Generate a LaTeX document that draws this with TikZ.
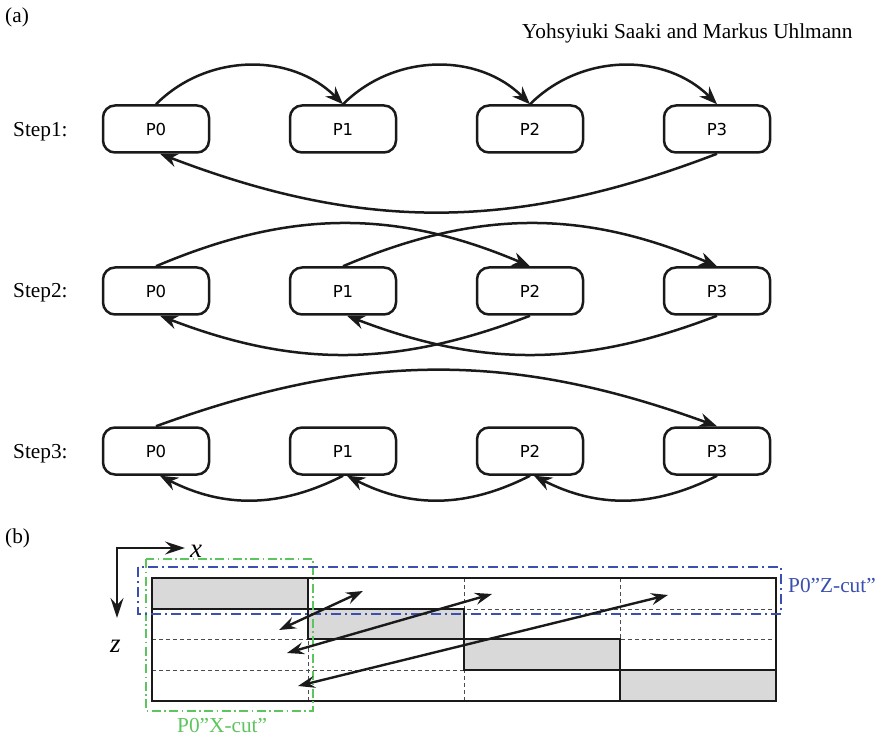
\documentclass[tikz,border=0pt]{standalone}
\usepackage{fontspec}
\setmainfont{Liberation Serif}
\newfontfamily\boxfont{DejaVu Sans}
\usetikzlibrary{arrows.meta}
\definecolor{zblue}{HTML}{3B4FB0}
\definecolor{xgreen}{HTML}{5DC55D}
\definecolor{cellgray}{HTML}{D9D9D9}
\definecolor{ink}{HTML}{1A1A1A}
\begin{document}
\begin{tikzpicture}[x=1pt,y=1pt,
  proc/.style={draw=ink, line width=2.5pt, rounded corners=12pt, minimum width=106pt, minimum height=47pt, inner sep=0pt, font=\boxfont\fontsize{16.5}{19}\selectfont},
  comm/.style={draw=ink, line width=2.5pt, -{Stealth[length=18pt,width=14pt,inset=6pt]}},
  xchg/.style={draw=ink, line width=2.4pt, {Stealth[length=17pt,width=12pt,inset=6pt]}-{Stealth[length=17pt,width=12pt,inset=6pt]}},
  axis/.style={draw=ink, line width=2.4pt, {Stealth[length=20pt,width=13pt,inset=7pt]}-{Stealth[length=20pt,width=13pt,inset=7pt]}},
  lbl/.style={font=\fontsize{21.3}{25}\selectfont, inner sep=0pt, anchor=base west},
  gridline/.style={draw=black!70, line width=1pt, dash pattern=on 4pt off 3pt},
  block/.style={fill=cellgray, draw=ink, line width=2.4pt},
  zcut/.style={draw=zblue, line width=1.7pt, dash pattern=on 10pt off 4pt on 2pt off 4pt},
  xcut/.style={draw=xgreen, line width=1.3pt, dash pattern=on 9pt off 3.5pt on 1.5pt off 3.5pt}
]
\useasboundingbox (0,0) rectangle (879,-738);

% ---------- part (a) ----------
\node[lbl] (la) at (5,-23) {(a)};
\node[lbl] (auth) at (522,-39) {Yohsyiuki Saaki and Markus Uhlmann};

\node[lbl] (st1) at (13,-137) {Step1:};
\node[lbl] (st2) at (13,-298) {Step2:};
\node[lbl] (st3) at (13,-458) {Step3:};

\foreach \r/\y in {1/129,2/291,3/451}{
  \node[proc] (r\r p0) at (156,-\y) {P0};
  \node[proc] (r\r p1) at (343,-\y) {P1};
  \node[proc] (r\r p2) at (530,-\y) {P2};
  \node[proc] (r\r p3) at (717,-\y) {P3};
}

% Step 1
\draw[comm] (r1p0.north) to[bend left=45] (r1p1.north);
\draw[comm] (r1p1.north) to[bend left=45] (r1p2.north);
\draw[comm] (r1p2.north) to[bend left=45] (r1p3.north);
\draw[comm] (r1p3.south) to[bend left=21] ([xshift=4pt]r1p0.south);

% Step 2
\draw[comm] (r2p0.north) to[bend left=23] (r2p2.north);
\draw[comm] (r2p1.north) to[bend left=23] (r2p3.north);
\draw[comm] (r2p2.south) to[bend left=21] ([xshift=4pt]r2p0.south);
\draw[comm] (r2p3.south) to[bend left=21] ([xshift=4pt]r2p1.south);

% Step 3
\draw[comm] (r3p0.north) to[bend left=20] (r3p3.north);
\draw[comm] (r3p1.south) to[bend left=27] ([xshift=4pt]r3p0.south);
\draw[comm] (r3p2.south) to[bend left=27] ([xshift=4pt]r3p1.south);
\draw[comm] (r3p3.south) to[bend left=27] ([xshift=4pt]r3p2.south);

% ---------- part (b) ----------
\node[lbl] (lb) at (5,-543) {(b)};

\coordinate (org) at (117,-548);
\coordinate (xax) at (185,-548);
\coordinate (zax) at (117,-618);
\draw[axis] (xax) -- (org) -- (zax);
\node[lbl, font=\fontsize{27}{30}\selectfont\itshape] (xl) at (190,-557) {x};
\node[lbl, font=\fontsize{27}{30}\selectfont\itshape] (zl) at (110,-652) {z};

% dashed grid
\foreach \yy in {609,639,670}{
  \draw[gridline] (152,-\yy) -- (776,-\yy);
}
\foreach \xx in {308,464,620}{
  \draw[gridline] (\xx,-578) -- (\xx,-701);
}
% diagonal blocks
\draw[block] (152,-578) rectangle (308,-609);
\draw[block] (308,-609) rectangle (464,-639);
\draw[block] (464,-639) rectangle (620,-670);
\draw[block] (620,-670) rectangle (776,-701);
% outline
\draw[draw=ink, line width=2.5pt] (152,-578) rectangle (776,-701);

% cut regions
\draw[xcut] (146,-559) rectangle (313,-711);
\draw[zcut] (138,-567) rectangle (781,-614);
\node[lbl, text=zblue] (zlab) at (788,-592) {P0”Z-cut”};
\node[lbl, text=xgreen] (xlab) at (177,-732) {P0”X-cut”};

% exchanges
\coordinate (a1s) at (279,-630);
\coordinate (a1e) at (363,-591);
\coordinate (a2s) at (287,-653);
\coordinate (a2e) at (492,-594);
\coordinate (a3s) at (298,-686);
\coordinate (a3e) at (668,-595);
\draw[xchg] (a1s) -- (a1e);
\draw[xchg] (a2s) -- (a2e);
\draw[xchg] (a3s) -- (a3e);
\end{tikzpicture}
\end{document}
